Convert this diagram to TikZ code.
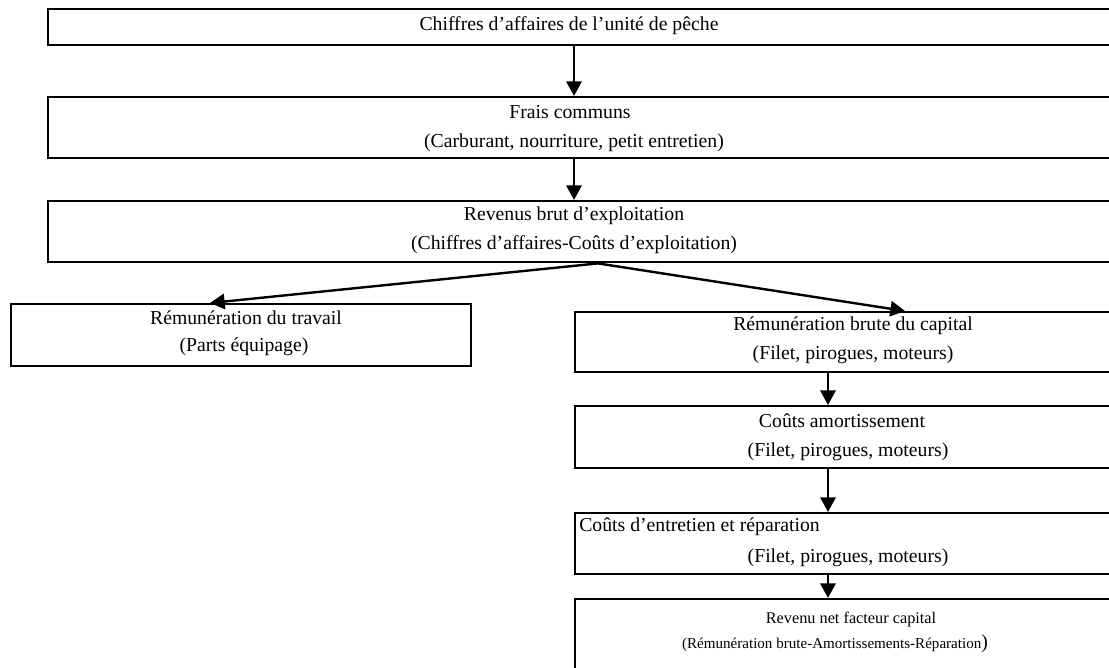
\documentclass[tikz,border=0pt]{standalone}
\usepackage{fontspec}
\setmainfont{Liberation Serif}
\usetikzlibrary{arrows.meta}
\begin{document}
\begin{tikzpicture}[x=0.75pt,y=-0.75pt,
  box/.style={draw, line width=1.8pt, rectangle, anchor=north west, inner sep=0pt},
  lbl/.style={font=\fontsize{14.8}{17}\selectfont, inner sep=0pt},
  small/.style={font=\fontsize{12.2}{14}\selectfont, inner sep=0pt},
  smaller/.style={font=\fontsize{11.3}{13}\selectfont, inner sep=0pt},
  arr/.style={line width=1.8pt, -{Triangle[length=11pt,width=11.5pt]}}]
\useasboundingbox (0,0) rectangle (1109,667);
\clip (0,0) rectangle (1109,667);

% boxes (they run past the right border of the page)
\node[box, minimum width=812.25pt, minimum height=27pt]    (b1) at (47,8)   {};
\node[box, minimum width=812.25pt, minimum height=45.75pt] (b2) at (47,96)  {};
\node[box, minimum width=812.25pt, minimum height=45.75pt] (b3) at (47,200) {};
\node[box, minimum width=345pt,    minimum height=46.5pt]  (bt) at (10,303) {};
\node[box, minimum width=432pt,    minimum height=45pt]    (bc) at (574,311) {};
\node[box, minimum width=432pt,    minimum height=46.5pt]  (ba) at (574,405) {};
\node[box, minimum width=432pt,    minimum height=45.75pt] (be) at (574,512) {};
\node[box, minimum width=432pt,    minimum height=75pt]    (bn) at (574,598) {};

% texts
\node[lbl] (t1)  at (569,26)  {Chiffres d’affaires de l’unité de pêche};
\node[lbl] (t2a) at (570,112) {Frais communs};
\node[lbl] (t2b) at (574,143) {(Carburant, nourriture, petit entretien)};
\node[lbl] (t3a) at (574,216) {Revenus brut d’exploitation};
\node[lbl] (t3b) at (574,245) {(Chiffres d’affaires-Coûts d’exploitation)};
\node[lbl] (tta) at (246,318) {Rémunération du travail};
\node[lbl] (ttb) at (244,347) {(Parts équipage)};
\node[lbl] (tca) at (853,326) {Rémunération brute du capital};
\node[lbl] (tcb) at (853,355) {(Filet, pirogues, moteurs)};
\node[lbl] (taa) at (842,421) {Coûts amortissement};
\node[lbl] (tab) at (848,452) {(Filet, pirogues, moteurs)};
\node[lbl, anchor=west] (tea) at (579,527) {Coûts d’entretien et réparation};
\node[lbl] (teb) at (848,558) {(Filet, pirogues, moteurs)};
\node[small] (tna) at (851,619) {Revenu net facteur capital};
\node[smaller] (tnb) at (835,644) {(Rémunération brute-Amortissements-Réparation{\fontsize{14.8}{17}\selectfont)}};

% connectors
\coordinate (fork) at (598,0 |- b3.south);
\draw[arr] (574,0 |- b1.south) -- (574,0 |- b2.north);
\draw[arr] (574,0 |- b2.south) -- (574,0 |- b3.north);
\draw[arr] (fork) -- (210,0 |- bt.north);
\draw[arr] (fork) -- (905,0 |- bc.north);
\draw[arr] (828,0 |- bc.south) -- (828,0 |- ba.north);
\draw[arr] (828,0 |- ba.south) -- (828,0 |- be.north);
\draw[arr] (828,0 |- be.south) -- (828,0 |- bn.north);
\end{tikzpicture}
\end{document}
